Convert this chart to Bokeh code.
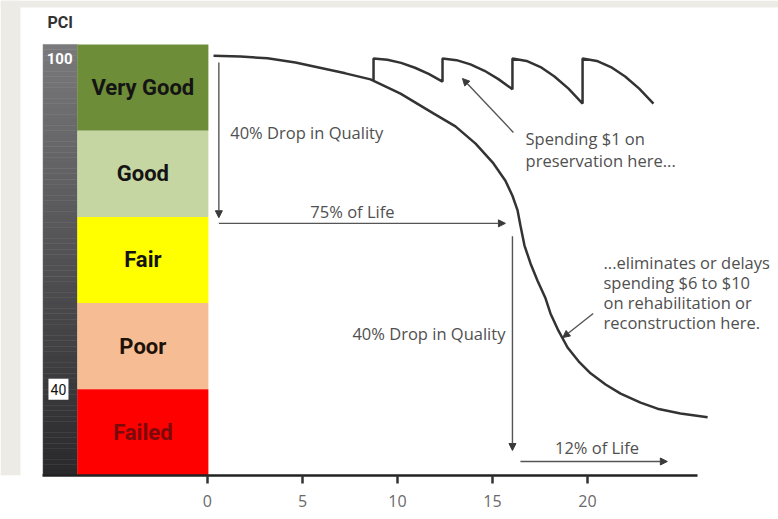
import numpy as np
from bokeh.plotting import figure
from bokeh.models import Range1d, FixedTicker, Arrow, NormalHead, ColumnDataSource
from bokeh.core.properties import value
from bokeh.embed import file_html
from bokeh.resources import INLINE

# ---------------- data ----------------
age_ticks = [0, 5, 10, 15, 20]

band_names = ["Very Good", "Good", "Fair", "Poor", "Failed"]
band_top = [100, 80, 60, 40, 20]
band_bottom = [80, 60, 40, 20, 0]
band_colors = ["#6e8d38", "#c6d6a2", "#ffff00", "#f6bd94", "#fe0000"]
band_text_colors = ["#141414", "#141414", "#141414", "#1e1208", "#7a0a0a"]

pci_tick_labels = ["100", "40"]
pci_tick_pos = [100, 20]

# pavement condition curve (age in years, schematic PCI)
curve_age = [0.32, 1.74, 3.16, 4.63, 5.79, 7.26, 8.58, 10.16, 11.89, 13.05, 14.11,
             15.05, 15.68, 16.05, 16.32, 16.47, 16.68, 17.0, 17.37, 17.79, 18.05,
             18.47, 18.95, 19.53, 20.16, 20.95, 21.74, 22.79, 23.68, 24.89, 26.32]
curve_pci = [97.4, 97.2, 96.8, 95.8, 94.7, 93.3, 91.9, 88.6, 84.0, 81.0, 77.0,
             72.4, 68.4, 64.9, 61.5, 58.0, 53.4, 49.2, 45.2, 41.1, 37.6,
             33.6, 29.7, 26.5, 23.7, 21.1, 19.0, 16.9, 15.5, 14.4, 13.5]

# preservation (saw-tooth) curve
pres_age = [8.74, 8.74, 9.47, 10.19, 10.92, 11.64, 12.37,
            12.37, 13.11, 13.84, 14.58, 15.31, 16.05,
            16.05, 16.79, 17.53, 18.26, 19.0, 19.74,
            19.74, 20.49, 21.23, 21.98, 22.72, 23.47]
pres_pci = [91.7, 96.75, 96.45, 95.73, 94.6, 93.17, 91.4,
            96.75, 96.36, 95.39, 93.89, 91.96, 89.6,
            96.75, 96.18, 94.76, 92.57, 89.75, 86.3,
            96.75, 96.18, 94.76, 92.57, 89.75, 86.3]

# annotations: arrows (x_start, y_start, x_end, y_end)
arrow_x0 = [0.6, 0.6, 16.05, 16.47, 16.1, 20.3]
arrow_y0 = [95.8, 58.5, 55.5, 3.25, 79.6, 37.6]
arrow_x1 = [0.6, 15.68, 16.05, 24.2, 13.42, 18.7]
arrow_y1 = [59.8, 58.5, 5.8, 3.25, 92.1, 32.0]

note_text = ["40% Drop in Quality", "75% of Life", "40% Drop in Quality", "12% of Life",
             "Spending $1 on", "preservation here...",
             "...eliminates or delays", "spending $6 to $10",
             "on rehabilitation or", "reconstruction here."]
note_x = [1.2, 7.63, 15.68, 20.5, 16.74, 16.74, 20.84, 20.84, 20.84, 20.84]
note_y = [79.6, 61.2, 32.9, 6.4, 78.2, 73.1, 49.4, 44.8, 40.1, 35.5]
note_align = ["left", "center", "right", "center", "left", "left", "left", "left", "left", "left"]

# ---------------- figure ----------------
X0, X1 = -10.89, 30.05
Y0, Y1 = 0, 110.2
p = figure(width=778, height=519, x_range=Range1d(X0, X1), y_range=Range1d(Y0, Y1),
           output_backend="svg", toolbar_location=None,
           min_border_left=0, min_border_right=0, min_border_top=0, min_border_bottom=44)
p.yaxis.visible = False
p.grid.visible = False
p.outline_line_color = None
p.background_fill_color = "white"
p.border_fill_color = "white"

ax = p.xaxis[0]
ax.ticker = FixedTicker(ticks=age_ticks)
ax.bounds = (-8.68, 25.8)
ax.axis_line_color = "#222222"
ax.axis_line_width = 2.5
ax.major_tick_line_color = "#333333"
ax.major_tick_line_width = 2.5
ax.major_tick_out = 8
ax.major_tick_in = 0
ax.minor_tick_out = 0
ax.minor_tick_in = 0
ax.major_label_standoff = 11
ax.major_label_text_font = "Open Sans"
ax.major_label_text_font_size = "16px"
ax.major_label_text_color = "#6a6a6a"

# light frame strips of the original slide
p.quad(left=X0, right=-9.84, top=Y1, bottom=Y0, fill_color="#ecebe5", line_color=None)
p.quad(left=X0, right=X1, top=Y1, bottom=108.6, fill_color="#ecebe5", line_color=None)

# gray PCI scale bar with vertical gradient
n = 80
edges = np.linspace(100, 0, n + 1)
shade = np.linspace(0x7a, 0x2a, n).astype(int)
grad_colors = ["#%02x%02x%02x" % (s, s, min(s + 3, 255)) for s in shade]
p.quad(left=-8.65, right=-6.85, top=edges[:-1], bottom=edges[1:],
       fill_color=grad_colors, line_color=grad_colors, line_width=0.5)

# condition bands
band_src = ColumnDataSource(dict(top=band_top, bottom=band_bottom, color=band_colors,
                                 name=band_names, tcolor=band_text_colors,
                                 mid=[(t + b) / 2 for t, b in zip(band_top, band_bottom)]))
p.quad(left=-6.85, right=0.05, top="top", bottom="bottom", fill_color="color",
       line_color=None, source=band_src)
p.text(x=-3.4, y="mid", text="name", text_color="tcolor", source=band_src,
       text_align="center", text_baseline="middle", text_font=value("Roboto"),
       text_font_style="bold", text_font_size="22px")

# PCI scale labels
p.text(x=[-7.78], y=[pci_tick_pos[0] - 3.3], text=[pci_tick_labels[0]], text_color="white",
       text_align="center", text_baseline="middle", text_font=value("Roboto"),
       text_font_style="bold", text_font_size="15px")
p.rect(x=[-7.84], y=[pci_tick_pos[1]], width=20, height=21, width_units="screen",
       height_units="screen", fill_color="white", line_color=None)
p.text(x=[-7.84], y=[pci_tick_pos[1]], text=[pci_tick_labels[1]], text_color="#111111",
       text_align="center", text_baseline="middle", text_font=value("Roboto"),
       text_font_size="14px")

# axis title "PCI"
p.text(x=[-8.42], y=[105.1], text=["PCI"], text_color="#333333", text_align="left",
       text_baseline="middle", text_font=value("Roboto"), text_font_style="bold",
       text_font_size="16px")

# curves
p.line(curve_age, curve_pci, line_width=2.5, line_color="#333333")
p.line(pres_age, pres_pci, line_width=2.5, line_color="#333333")

# arrows
for xs, ys, xe, ye in zip(arrow_x0, arrow_y0, arrow_x1, arrow_y1):
    p.add_layout(Arrow(end=NormalHead(size=7, fill_color="#3a3a3a", line_color="#3a3a3a"),
                       x_start=xs, y_start=ys, x_end=xe, y_end=ye,
                       line_color="#555555", line_width=1.4))

# notes
note_src = ColumnDataSource(dict(x=note_x, y=note_y, text=note_text, align=note_align))
p.text(x="x", y="y", text="text", text_align="align", source=note_src,
       text_baseline="middle", text_font=value("Open Sans"), text_font_size="16.5px",
       text_color="#505050")

open("out.html", "w").write(file_html(p, INLINE))
